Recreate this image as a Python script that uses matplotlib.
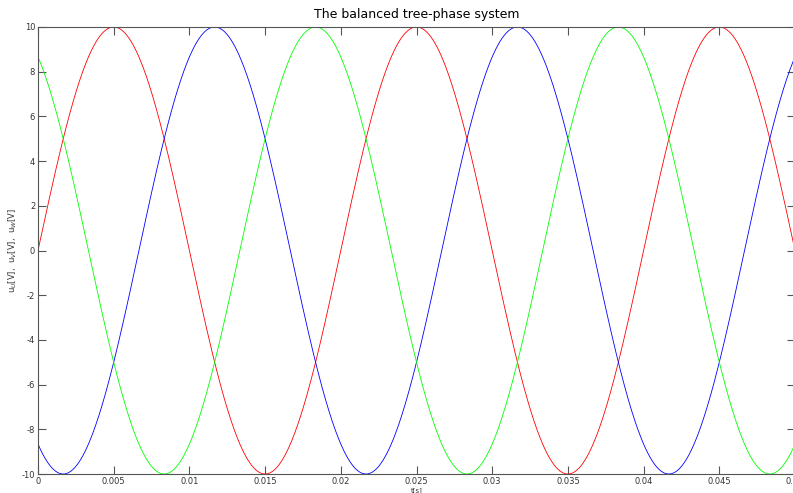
import numpy as np
import matplotlib
matplotlib.use("Agg")
import matplotlib.pyplot as plt

plt.rcParams["axes.unicode_minus"] = False

# Phase voltages of a balanced three-phase source
amplitude = 10.0            # V
frequency = 50.0            # Hz
phase_deg = [0.0, -120.0, 120.0]   # u_U, u_V, u_W
phase_colors = ["#ff0000", "#0000ff", "#00ff00"]
t_end = 0.05
x_ticks = [0, 0.005, 0.01, 0.015, 0.02, 0.025, 0.03, 0.035, 0.04, 0.045, 0.05]
x_tick_labels = ["0", "0.005", "0.01", "0.015", "0.02", "0.025", "0.03", "0.035", "0.04", "0.045", "0.05"]
y_ticks = [-10, -8, -6, -4, -2, 0, 2, 4, 6, 8, 10]

t = np.linspace(0, t_end, 2001)

fig = plt.figure(figsize=(7.93, 4.93), dpi=100)
ax = fig.add_axes([38 / 793, 19 / 493, 757 / 793, 447 / 493])

for ph, c in zip(phase_deg, phase_colors):
    u = amplitude * np.sin(2 * np.pi * frequency * t + np.deg2rad(ph))
    ax.plot(t, u, color=c, lw=0.6)

ax.set_xlim(0, t_end)
ax.set_ylim(-10, 10)
ax.set_xticks(x_ticks)
ax.set_xticklabels(x_tick_labels)
ax.set_yticks(y_ticks)
ax.tick_params(direction="in", length=6, width=0.8, colors="#555555",
               labelcolor="#333333", labelsize=6, top=True, right=True, pad=2)
for s in ax.spines.values():
    s.set_color("#555555")
    s.set_linewidth(0.8)

ax.set_title("The balanced tree-phase system", fontsize=9, pad=6.5)
ax.set_xlabel("t[s]", fontsize=5, labelpad=1, color="#333333")
ax.set_ylabel(r"u$_U$[V],  u$_V$[V],  u$_W$[V]", fontsize=6, labelpad=2, color="#333333")

fig.savefig("out.png", dpi=100)
